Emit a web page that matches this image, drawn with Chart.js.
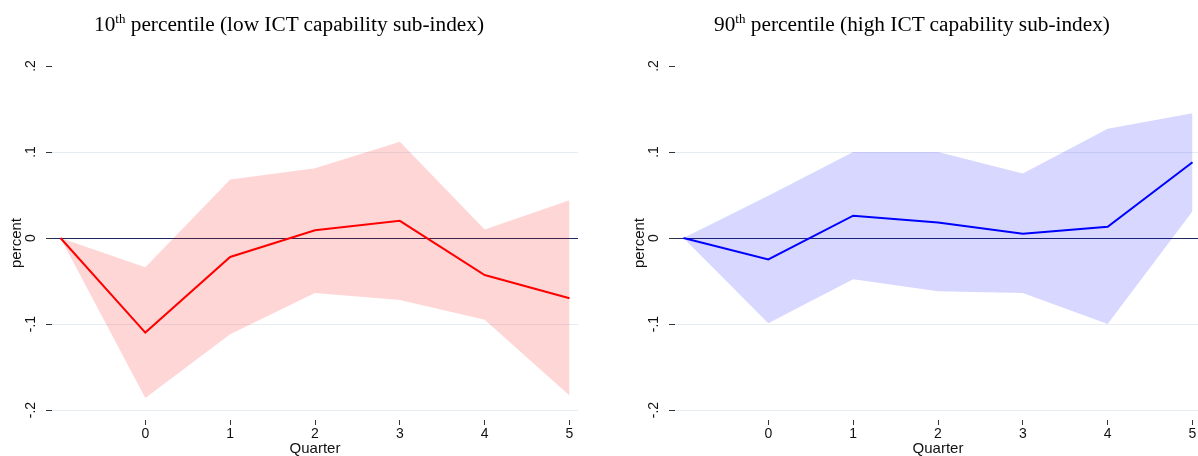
<!DOCTYPE html>
<html>
<head>
<meta charset="utf-8">
<script src="https://cdn.jsdelivr.net/npm/chart.js@4.4.1/dist/chart.umd.min.js"></script>
<style>
  html, body { margin: 0; padding: 0; background: #fff; overflow: hidden; }
  body { width: 1198px; height: 456px; position: relative; }
  .panel { position: absolute; top: 0; width: 600px; height: 456px; }
  .panel canvas { position: absolute; left: 0; top: 0; }
  .ttl {
    position: absolute; left: 0; top: 14px; width: 578px; z-index: 2;
    text-align: center; white-space: nowrap; color: #000;
    font-family: "Liberation Serif", "Times New Roman", serif; font-size: 21.3px; line-height: 1;
  }
  .ttl span { font-size: 13px; position: relative; top: -8px; }
</style>
</head>
<body>
<div class="panel" style="left:0">
  <div class="ttl">10<span>th</span> percentile (low ICT capability sub-index)</div>
  <canvas id="lowChart" width="600" height="456"></canvas>
</div>
<div class="panel" style="left:623px">
  <div class="ttl">90<span>th</span> percentile (high ICT capability sub-index)</div>
  <canvas id="highChart" width="600" height="456"></canvas>
</div>
<script>
// quarters after the shock, -1 is the baseline
const quarters = [-1, 0, 1, 2, 3, 4, 5];
const xTicks = [0, 1, 2, 3, 4, 5];
const yTicks = [-0.2, -0.1, 0, 0.1, 0.2];
const yTickLabels = ['-.2', '-.1', '0', '.1', '.2'];

// 10th percentile: response and confidence band
const lowIrf   = [0, -0.110, -0.022, 0.009, 0.020, -0.043, -0.070];
const lowUpper = [0, -0.034, 0.068, 0.081, 0.112, 0.010, 0.044];
const lowLower = [0, -0.186, -0.112, -0.064, -0.072, -0.095, -0.183];

// 90th percentile
const highIrf   = [0, -0.025, 0.026, 0.018, 0.005, 0.013, 0.088];
const highUpper = [0, 0.049, 0.100, 0.100, 0.075, 0.127, 0.145];
const highLower = [0, -0.099, -0.048, -0.062, -0.064, -0.100, 0.031];

Chart.defaults.font.family = '"Liberation Sans", Arial, sans-serif';

function pts(values) {
    return quarters.map((q, i) => ({ x: q, y: values[i] }));
}

function gridColor(ctx) {
    if (!ctx.tick) return 'rgba(0,0,0,0)';
    if (ctx.tick.value === 0) return '#1c2a5c';
    if (ctx.tick.value === 0.2) return 'rgba(0,0,0,0)';
    return '#e6edf2';
}

function drawIrfChart(id, irf, upper, lower, lineColor, bandColor) {
    new Chart(document.getElementById(id), {
        type: 'line',
        data: {
            datasets: [{
                data: pts(upper),
                borderWidth: 0,
                pointRadius: 0,
                fill: false
            }, {
                data: pts(lower),
                borderWidth: 0,
                pointRadius: 0,
                fill: '-1',
                backgroundColor: bandColor
            }, {
                data: pts(irf),
                borderColor: lineColor,
                borderWidth: 2,
                pointRadius: 0,
                fill: false
            }]
        },
        options: {
            responsive: false,
            animation: false,
            layout: { padding: { top: 66, right: 22, left: 0, bottom: 0 } },
            plugins: {
                legend: { display: false },
                tooltip: { enabled: false }
            },
            scales: {
                x: {
                    type: 'linear',
                    min: -1.1,
                    max: 5.1,
                    afterBuildTicks: (s) => { s.ticks = xTicks.map(v => ({ value: v })); },
                    afterFit: (s) => { s.height = 36; },
                    grid: { drawOnChartArea: false, tickLength: 5, tickColor: '#333' },
                    border: { display: false },
                    ticks: { font: { size: 14 }, color: '#111', padding: 1, autoSkip: false, maxRotation: 0 },
                    title: { display: true, text: 'Quarter', color: '#111', padding: 0, font: { size: 15, lineHeight: 1 } }
                },
                y: {
                    min: -0.2116,
                    max: 0.2,
                    afterBuildTicks: (s) => { s.ticks = yTicks.map(v => ({ value: v })); },
                    afterFit: (s) => { s.width = 52; },
                    grid: { color: gridColor, tickLength: 6, tickColor: '#333' },
                    border: { display: false },
                    ticks: {
                        minRotation: 90,
                        maxRotation: 90,
                        crossAlign: 'center',
                        padding: 7,
                        font: { size: 14 },
                        color: '#111',
                        callback: (v, i) => yTickLabels[i]
                    },
                    title: { display: true, text: 'percent', color: '#111', padding: { top: 9, bottom: 0 }, font: { size: 15, lineHeight: 1 } }
                }
            }
        }
    });
}

drawIrfChart('lowChart', lowIrf, lowUpper, lowLower, '#ff0000', 'rgba(255,0,0,0.16)');
drawIrfChart('highChart', highIrf, highUpper, highLower, '#0000ff', 'rgba(0,0,255,0.155)');
</script>
</body>
</html>
